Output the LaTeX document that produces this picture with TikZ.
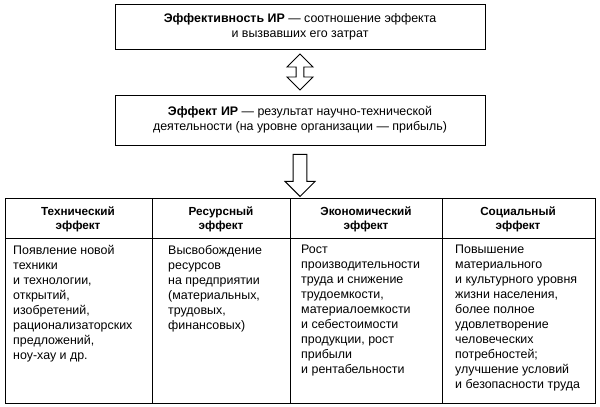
\documentclass[tikz,border=0pt]{standalone}
\usepackage{fontspec}
\setmainfont{Liberation Sans}
\usetikzlibrary{shapes.arrows}
\tikzset{
  topbox/.style={draw, thick, minimum width=370*0.03cm, align=center, inner sep=3pt},
  head/.style={anchor=north, align=center, font=\bfseries},
  cell/.style={anchor=north west, align=left, inner sep=0pt},
  hollow/.style={draw, thick, fill=white}
}
\begin{document}
\begin{tikzpicture}[x=0.03cm, y=-0.03cm, font=\fontsize{10.6}{12.8}\selectfont]
  \useasboundingbox (0,0) rectangle (600,406);
  %% top boxes
  \node[topbox, minimum height=45*0.03cm] (eff) at (300,27) {\textbf{Эффективность ИР} — соотношение эффекта\\и вызвавших его затрат};
  \node[topbox, minimum height=50*0.03cm] (res) at (300,120) {\textbf{Эффект ИР} — результат научно-технической\\деятельности (на уровне организации — прибыль)};
  \node[hollow, double arrow, rotate=90, minimum height=36*0.03cm, minimum width=26*0.03cm,
        double arrow head extend=4.5pt, inner sep=1.5pt] (link) at (300,72) {};
  \node[hollow, single arrow, rotate=-90, minimum height=42*0.03cm, minimum width=30*0.03cm,
        single arrow head extend=3.5pt, inner sep=2.5pt] (down) at (300,172) {};
  %% table
  \draw[thick] (5,198) rectangle (595,403);
  \draw[thick] (5,238) -- (595,238);
  \foreach \x in {152,290,442} \draw[thick] (\x,198) -- (\x,403);
  \node[head] (h1) at (78,203) {Технический\\эффект};
  \node[head] (h2) at (221,203) {Ресурсный\\эффект};
  \node[head] (h3) at (366,203) {Экономический\\эффект};
  \node[head] (h4) at (518,203) {Социальный\\эффект};
  \node[cell] (c1) at (13,245) {Появление новой\\техники\\и технологии,\\открытий,\\изобретений,\\рационализаторских\\предложений,\\ноу-хау и др.};
  \node[cell] (c2) at (168,245) {Высвобождение\\ресурсов\\на предприятии\\(материальных,\\трудовых,\\финансовых)};
  \node[cell] (c3) at (301,245) {Рост\\производительности\\труда и снижение\\трудоемкости,\\материалоемкости\\и себестоимости\\продукции, рост\\прибыли\\и рентабельности};
  \node[cell] (c4) at (455,245) {Повышение\\материального\\и культурного уровня\\жизни населения,\\более полное\\удовлетворение\\человеческих\\потребностей;\\улучшение условий\\и безопасности труда};
\end{tikzpicture}
\end{document}
